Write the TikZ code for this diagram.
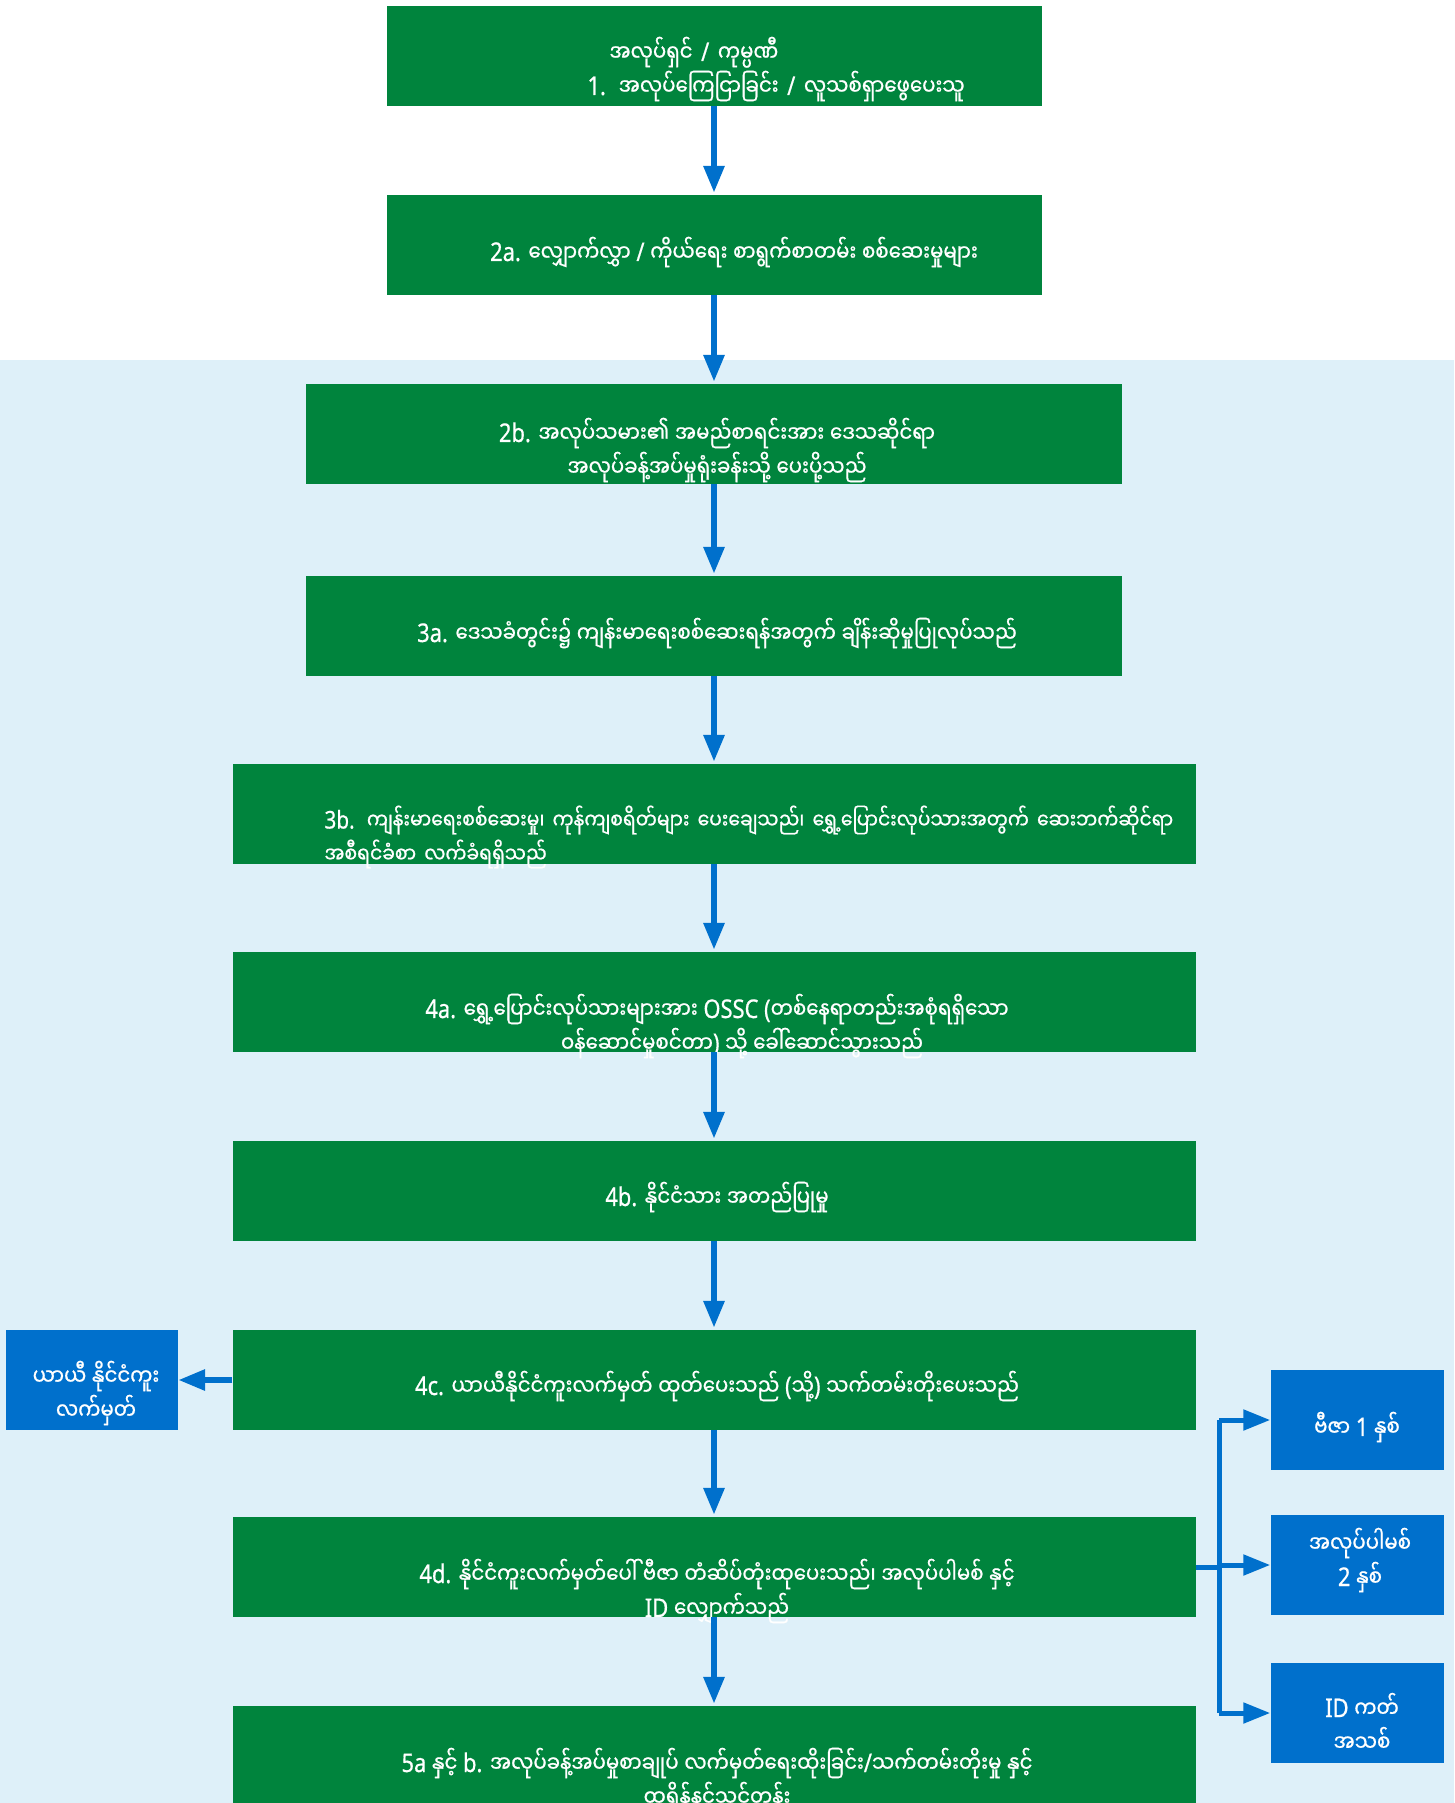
\documentclass[tikz,border=0pt]{standalone}
\usepackage{fontspec}
\usepackage{tikz}
\usepackage{xcolor}
\usetikzlibrary{arrows.meta}

\setmainfont[FakeStretch=0.85]{Noto Sans}
\newfontfamily\latinfont[FakeStretch=0.85,Scale=1.12,FakeBold=0.6]{Noto Sans}
\newfontfamily\mmfont[Script=Myanmar,FakeStretch=0.86,FakeBold=0.8]{Noto Sans Myanmar UI}

% switch to the Myanmar font for U+1000--U+109F
\XeTeXinterchartokenstate=1
\newXeTeXintercharclass\mmclass
\newcount\mmc
\mmc="1000
\loop
  \XeTeXcharclass\mmc=\mmclass
  \ifnum\mmc<"109F \advance\mmc by 1
\repeat
\XeTeXinterchartoks 0 \mmclass = {\mmfont}
\XeTeXinterchartoks 4095 \mmclass = {\mmfont}
\XeTeXinterchartoks \mmclass 0 = {\latinfont}
\XeTeXinterchartoks \mmclass 4095 = {\latinfont}

\definecolor{boxgreen}{RGB}{0,132,61}
\definecolor{boxblue}{RGB}{0,112,204}
\definecolor{bgblue}{RGB}{222,240,249}

\tikzset{
  greenbox/.style={fill=boxgreen, minimum height=100pt, inner sep=0pt},
  bluebox/.style={fill=boxblue, minimum width=173pt, minimum height=100pt, inner sep=0pt},
  boxtext/.style={text=white, inner sep=0pt, align=center,
    font=\latinfont\fontsize{23}{34}\selectfont},
  flow/.style={draw=boxblue, line width=6pt, -{Triangle[width=20pt,length=27pt]}}
}

\begin{document}
\begin{tikzpicture}[x=1pt,y=-1pt]

\useasboundingbox (0,0) rectangle (1454,1803);
\clip (0,0) rectangle (1454,1803);
\fill[bgblue] (0,360) rectangle (1454,1803);

% main column
\node[greenbox, minimum width=655pt] (b1) at (714,56) {};
\node[greenbox, minimum width=655pt] (b2a) at (714,245) {};
\node[greenbox, minimum width=816pt] (b2b) at (714,434) {};
\node[greenbox, minimum width=816pt] (b3a) at (714,626) {};
\node[greenbox, minimum width=963pt] (b3b) at (714,814) {};
\node[greenbox, minimum width=963pt] (b4a) at (714,1002) {};
\node[greenbox, minimum width=963pt] (b4b) at (714,1191) {};
\node[greenbox, minimum width=963pt] (b4c) at (714,1380) {};
\node[greenbox, minimum width=963pt] (b4d) at (714,1567) {};
\node[greenbox, minimum width=963pt] (b5) at (714,1756) {};

\node[boxtext, text width=655pt, align=left] (t1) at (714,69)
  {\mbox{\hspace*{223pt}အလုပ်ရှင် / ကုမ္ပဏီ}\\\mbox{\hspace*{201pt}1. အလုပ်ကြေငြာခြင်း / လူသစ်ရှာဖွေပေးသူ}};
\node[boxtext] (t2a) at (734,252)
  {2a. လျှောက်လွှာ / ကိုယ်ရေး စာရွက်စာတမ်း စစ်ဆေးမှုများ};
\node[boxtext] (t2b) at (717,450)
  {2b. အလုပ်သမား၏ အမည်စာရင်းအား ဒေသဆိုင်ရာ\\အလုပ်ခန့်အပ်မှုရုံးခန်းသို့ ပေးပို့သည်};
\node[boxtext] (t3a) at (717,633)
  {3a. ဒေသခံတွင်း၌ ကျန်းမာရေးစစ်ဆေးရန်အတွက် ချိန်းဆိုမှုပြုလုပ်သည်};
\node[boxtext, text width=963pt, align=left, font=\latinfont\fontsize{21.8}{34}\selectfont] (t3b) at (714,837)
  {\mbox{\hspace*{92pt}3b. ကျန်းမာရေးစစ်ဆေးမှု၊ ကုန်ကျစရိတ်များ ပေးချေသည်၊ ရွှေ့ပြောင်းလုပ်သားအတွက် ဆေးဘက်ဆိုင်ရာ}\\\mbox{\hspace*{92pt}အစီရင်ခံစာ လက်ခံရရှိသည်}};
\node[boxtext] (t4a) at (717,1026)
  {4a. ရွှေ့ပြောင်းလုပ်သားများအား OSSC (တစ်နေရာတည်းအစုံရရှိသော\\\hspace*{50pt}ဝန်ဆောင်မှုစင်တာ) သို့ ခေါ်ဆောင်သွားသည်};
\node[boxtext] (t4b) at (717,1197)
  {4b. နိုင်ငံသား အတည်ပြုမှု};
\node[boxtext] (t4c) at (717,1386)
  {4c. ယာယီနိုင်ငံကူးလက်မှတ် ထုတ်ပေးသည် (သို့) သက်တမ်းတိုးပေးသည်};
\node[boxtext] (t4d) at (717,1591)
  {4d. နိုင်ငံကူးလက်မှတ်ပေါ် ဗီဇာ တံဆိပ်တုံးထုပေးသည်၊ အလုပ်ပါမစ် နှင့်\\ID လျှောက်သည်};
\node[boxtext] (t5) at (717,1780)
  {5a နှင့် b. အလုပ်ခန့်အပ်မှုစာချုပ် လက်မှတ်ရေးထိုးခြင်း/သက်တမ်းတိုးမှု နှင့်\\ထရိန်နင်သင်တန်း};

% side boxes
\node[bluebox, minimum width=172pt] (pass) at (92,1380) {};
\node[bluebox] (visa) at (1357,1420) {};
\node[bluebox] (permit) at (1357,1565) {};
\node[bluebox] (idcard) at (1357,1713) {};

\node[boxtext] (tpass) at (96,1393) {ယာယီ နိုင်ငံကူး\\လက်မှတ်};
\node[boxtext] (tvisa) at (1357,1427) {ဗီဇာ 1 နှစ်};
\node[boxtext] (tpermit) at (1360,1560) {အလုပ်ပါမစ်\\2 နှစ်};
\node[boxtext] (tidcard) at (1362,1722) {ID ကတ်\\အသစ်};

\coordinate (fork) at (1219,1567);

\draw[flow] (b1) -- ([yshift=2pt]b2a.north);
\draw[flow] (b2a) -- ([yshift=2pt]b2b.north);
\draw[flow] (b2b) -- ([yshift=2pt]b3a.north);
\draw[flow] (b3a) -- ([yshift=2pt]b3b.north);
\draw[flow] (b3b) -- ([yshift=2pt]b4a.north);
\draw[flow] (b4a) -- ([yshift=2pt]b4b.north);
\draw[flow] (b4b) -- ([yshift=2pt]b4c.north);
\draw[flow] (b4c) -- ([yshift=2pt]b4d.north);
\draw[flow] (b4d) -- ([yshift=2pt]b5.north);

\draw[flow] (b4c) -- (pass);

\draw[draw=boxblue, line width=5pt] (b4d.east) -- (fork);
\draw[draw=boxblue, line width=5pt] (fork |- visa) -- (fork |- idcard);
\draw[flow, line width=5pt] (fork |- visa) -- (visa);
\draw[flow, line width=5pt] (fork |- permit) -- (permit);
\draw[flow, line width=5pt] (fork |- idcard) -- (idcard);

\end{tikzpicture}
\end{document}
